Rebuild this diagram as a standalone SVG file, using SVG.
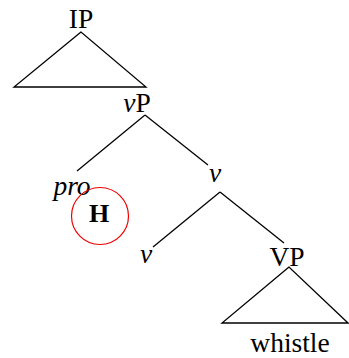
<svg xmlns="http://www.w3.org/2000/svg" width="349" height="358" viewBox="0 0 349 358">
<style>
text{font-family:"Liberation Serif","Times New Roman",serif;font-size:27.5px;fill:#000;text-anchor:middle}
.it{font-style:italic}
.b{font-weight:bold;font-size:26px}
line,polygon{stroke:#000;stroke-width:1.3;fill:none}
</style>
<rect width="349" height="358" fill="#fff"/>
<g id="connectors">
<polygon points="81,32 14,87 146,87"/>
<line x1="145" y1="115" x2="77" y2="171"/>
<line x1="145" y1="115" x2="208" y2="165"/>
<line x1="220" y1="192" x2="153" y2="247"/>
<line x1="220" y1="192" x2="284" y2="243"/>
<polygon points="289,267 222,323 348,323"/>
</g>
<g id="IP"><text x="81" y="28">IP</text></g>
<g id="vP"><text x="137" y="112"><tspan class="it">v</tspan>P</text></g>
<g id="pro"><text class="it" x="72" y="195">pro</text></g>
<g id="H"><circle cx="100" cy="216" r="28.5" fill="none" stroke="#e00" stroke-width="1.2"/><text class="b" x="99" y="222">H</text></g>
<g id="vbar"><text class="it" x="215" y="182">v</text></g>
<g id="v"><text class="it" x="146" y="263">v</text></g>
<g id="VP"><text x="287" y="266">VP</text></g>
<g id="whistle"><text x="290" y="352">whistle</text></g>
</svg>
